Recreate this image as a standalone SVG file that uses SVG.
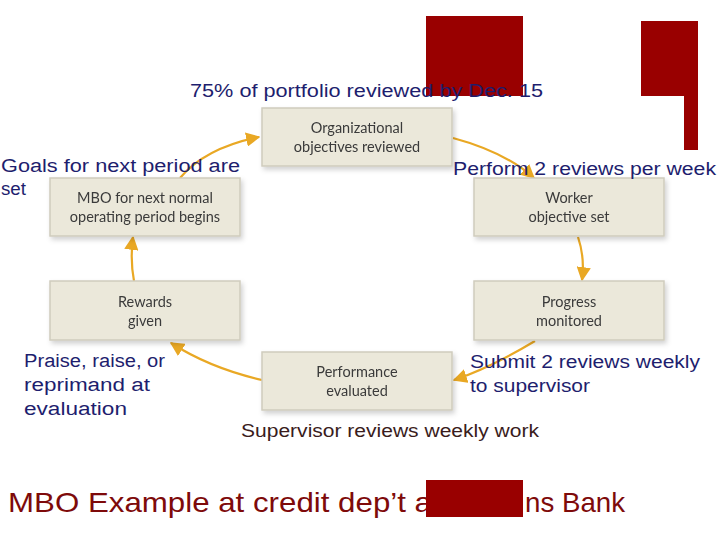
<svg xmlns="http://www.w3.org/2000/svg" width="720" height="540" viewBox="0 0 720 540">
<style>
.box{fill:#ebe8da;stroke:#cfccbd;stroke-width:1.5}
.bt{font-family:Lato,"Liberation Sans",sans-serif;font-size:14.5px;fill:#3a3a3a;text-anchor:middle}
.lab{font-family:"Liberation Sans",Arial,sans-serif;font-size:18px;fill:#1e1e6e}
.dk{fill:#3a1c1c}
.title{font-family:"Liberation Sans",Arial,sans-serif;font-size:28px;fill:#7e0a0a}
.con{fill:none;stroke:#e9a824;stroke-width:2.2}
.red{fill:#990000}
</style>
<defs>
<filter id="sh" x="-10%" y="-20%" width="125%" height="150%">
<feDropShadow dx="2" dy="3" stdDeviation="2.5" flood-color="#000" flood-opacity="0.18"/>
</filter>
<marker id="ah" viewBox="0 0 10 10" refX="9" refY="5" markerWidth="6.5" markerHeight="6.5" orient="auto" markerUnits="strokeWidth">
<path d="M0,0 L10,5 L0,10 z" fill="#e9a824"/>
</marker>
</defs>
<rect width="720" height="540" fill="#fff"/>
<rect class="red" x="426" y="16" width="97" height="80"/>
<path class="red" d="M641,21 H698 V150 H684 V96 H641 z"/>
<g id="connectors">
<path class="con" d="M180,178 Q205,148 259,137" marker-end="url(#ah)"/>
<path class="con" d="M453,138 Q505,152 534,178" marker-end="url(#ah)"/>
<path class="con" d="M578,237 Q585,258 582,280" marker-end="url(#ah)"/>
<path class="con" d="M535,341 Q490,368 454,380" marker-end="url(#ah)"/>
<path class="con" d="M262,380 Q210,368 171,343" marker-end="url(#ah)"/>
<path class="con" d="M134,281 Q130,260 133,237" marker-end="url(#ah)"/>
</g>
<g id="n-org" filter="url(#sh)">
<rect class="box" x="262" y="108" width="190" height="58"/>
<text class="bt" x="357" y="133">Organizational</text>
<text class="bt" x="357" y="152">objectives reviewed</text>
</g>
<g id="n-mbo" filter="url(#sh)">
<rect class="box" x="50" y="178" width="190" height="58"/>
<text class="bt" x="145" y="203">MBO for next normal</text>
<text class="bt" x="145" y="222">operating period begins</text>
</g>
<g id="n-worker" filter="url(#sh)">
<rect class="box" x="474" y="178" width="190" height="58"/>
<text class="bt" x="569" y="203">Worker</text>
<text class="bt" x="569" y="222">objective set</text>
</g>
<g id="n-rewards" filter="url(#sh)">
<rect class="box" x="50" y="281" width="190" height="59"/>
<text class="bt" x="145" y="307">Rewards</text>
<text class="bt" x="145" y="326">given</text>
</g>
<g id="n-progress" filter="url(#sh)">
<rect class="box" x="474" y="281" width="190" height="59"/>
<text class="bt" x="569" y="307">Progress</text>
<text class="bt" x="569" y="326">monitored</text>
</g>
<g id="n-perf" filter="url(#sh)">
<rect class="box" x="262" y="352" width="190" height="58"/>
<text class="bt" x="357" y="377">Performance</text>
<text class="bt" x="357" y="396">evaluated</text>
</g>
<g id="labels">
<text class="lab" x="190" y="97" textLength="353" lengthAdjust="spacingAndGlyphs">75% of portfolio reviewed by Dec. 15</text>
<text class="lab" x="1" y="172" textLength="239" lengthAdjust="spacingAndGlyphs">Goals for next period are</text>
<text class="lab" x="1" y="195" textLength="25" lengthAdjust="spacingAndGlyphs">set</text>
<text class="lab" x="453" y="175" textLength="263" lengthAdjust="spacingAndGlyphs">Perform 2 reviews per week</text>
<text class="lab" x="24" y="367" textLength="141" lengthAdjust="spacingAndGlyphs">Praise, raise, or</text>
<text class="lab" x="24" y="391" textLength="126" lengthAdjust="spacingAndGlyphs">reprimand at</text>
<text class="lab" x="24" y="415" textLength="103" lengthAdjust="spacingAndGlyphs">evaluation</text>
<text class="lab" x="470" y="368" textLength="230" lengthAdjust="spacingAndGlyphs">Submit 2 reviews weekly</text>
<text class="lab" x="470" y="392" textLength="120" lengthAdjust="spacingAndGlyphs">to supervisor</text>
<text class="lab dk" x="241" y="437" textLength="298" lengthAdjust="spacingAndGlyphs">Supervisor reviews weekly work</text>
<text class="title" x="8" y="512" textLength="424" lengthAdjust="spacingAndGlyphs">MBO Example at credit dep’t a</text>
<text class="title" x="525" y="512" textLength="100" lengthAdjust="spacingAndGlyphs">ns Bank</text>
</g>
<rect class="red" x="426" y="480" width="97" height="37"/>
</svg>
